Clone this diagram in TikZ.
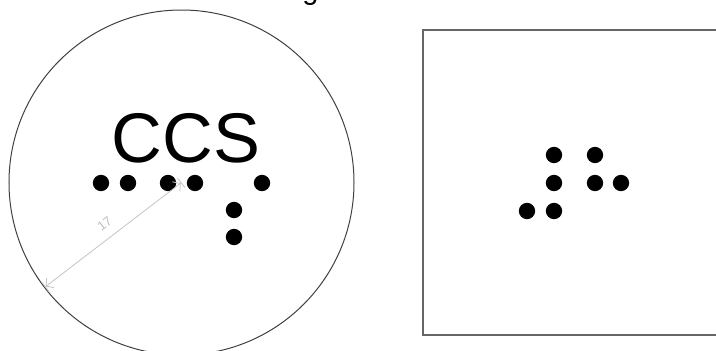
\documentclass[tikz,border=0pt]{standalone}
\usepackage{fontspec}
\setmainfont{Liberation Sans}
\usetikzlibrary{arrows.meta,calc,positioning}

\begin{document}
\begin{tikzpicture}[x=0.3mm,y=-0.3mm,
  dot/.style={circle,fill=black,inner sep=0pt,minimum size=4.9mm},
  radline/.style={draw=gray!45,line width=0.25mm,
    {Bar[width=3.6mm]Straight Barb[length=1.6mm,width=3.6mm]}-{Straight Barb[length=1.6mm,width=3.6mm]Bar[width=3.6mm]}}]
\useasboundingbox (0,0) rectangle (716,350);
\clip (0,0) rectangle (716,350);
\node[anchor=base,font=\fontsize{24.7}{28}\selectfont] (title) at (374,-1) {geometries};
% coin with the braille
\coordinate (coin) at (181.5,182.5);
\coordinate (rim) at (45,287);
\draw[black!75,line width=0.3mm] (coin) circle[radius=51.75mm];
\node[anchor=base,font=\fontsize{60}{60}\selectfont] (ccs) at (186,162) {CCS};
\foreach \px/\py/\n in {101/183/l1,128/183/l2,168/183/l3,195/183/l4,262/183/l5,234/210/l6,234/237/l7}{
  \node[dot] (\n) at (\px,\py) {};}
\draw[radline] (rim) -- (coin) node[midway,sloped,above=2.8mm,inner sep=0pt,text=gray!50,font=\fontsize{11}{11}\selectfont] (rad) {17};
% cell
\draw[black!60,line width=0.45mm] (423,30) rectangle (740,335);
\foreach \px/\py/\n in {554/155/r1,595/155/r2,554/183/r3,595/183/r4,621/183/r5,527/211/r6,554/211/r7}{
  \node[dot] (\n) at (\px,\py) {};}
\end{tikzpicture}
\end{document}
